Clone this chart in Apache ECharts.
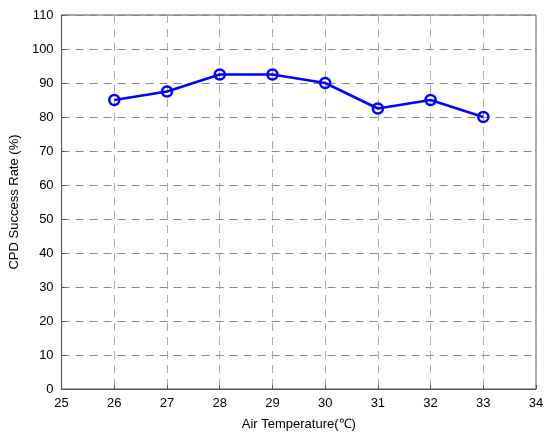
<!DOCTYPE html>
<html><head><meta charset="utf-8">
<script src="https://cdn.jsdelivr.net/npm/echarts@6/dist/echarts.min.js"></script>
<style>html,body{margin:0;padding:0;background:#fff}#c{width:550px;height:436px}</style>
</head><body><div id="c"></div>
<script>
const temps = [26, 27, 28, 29, 30, 31, 32, 33];
const rates = [85, 87.5, 92.5, 92.5, 90, 82.5, 85, 80];
const chart = echarts.init(document.getElementById('c'));
const font = 'Liberation Sans, Arial, sans-serif';
chart.setOption({
  animation: false,
  backgroundColor: '#fff',
  grid: {left: 59, right: 14, top: 15, bottom: 45, show: true, borderColor: '#555', borderWidth: 1},
  xAxis: {
    type: 'value', min: 25, max: 34, interval: 1,
    name: 'Air Temperature(℃)', nameLocation: 'middle', nameGap: 29,
    nameTextStyle: {fontFamily: font, fontSize: 13, color: '#000'},
    axisLine: {show: true, lineStyle: {color: '#555'}},
    axisTick: {show: true, inside: true, length: 4, lineStyle: {color: '#555'}},
    axisLabel: {fontFamily: font, fontSize: 13, color: '#000', margin: 8},
    splitLine: {show: true, lineStyle: {color: '#aaa', type: [8, 6], width: 1}}
  },
  yAxis: {
    type: 'value', min: 0, max: 110, interval: 10,
    name: 'CPD Success Rate (%)', nameLocation: 'middle', nameGap: 38,
    nameTextStyle: {fontFamily: font, fontSize: 13, color: '#000'},
    axisLine: {show: true, lineStyle: {color: '#555'}},
    axisTick: {show: true, inside: true, length: 4, lineStyle: {color: '#555'}},
    axisLabel: {fontFamily: font, fontSize: 13, color: '#000', margin: 8},
    splitLine: {show: true, lineStyle: {color: '#888', type: [8, 6], width: 1}}
  },
  series: [{
    type: 'line',
    data: temps.map((t, i) => [t, rates[i]]),
    symbol: 'circle', symbolSize: 10,
    itemStyle: {color: 'rgba(255,255,255,0)', borderColor: '#0000ff', borderWidth: 2.5},
    lineStyle: {color: '#0000ff', width: 2.5},
    z: 5
  }]
});
</script></body></html>
